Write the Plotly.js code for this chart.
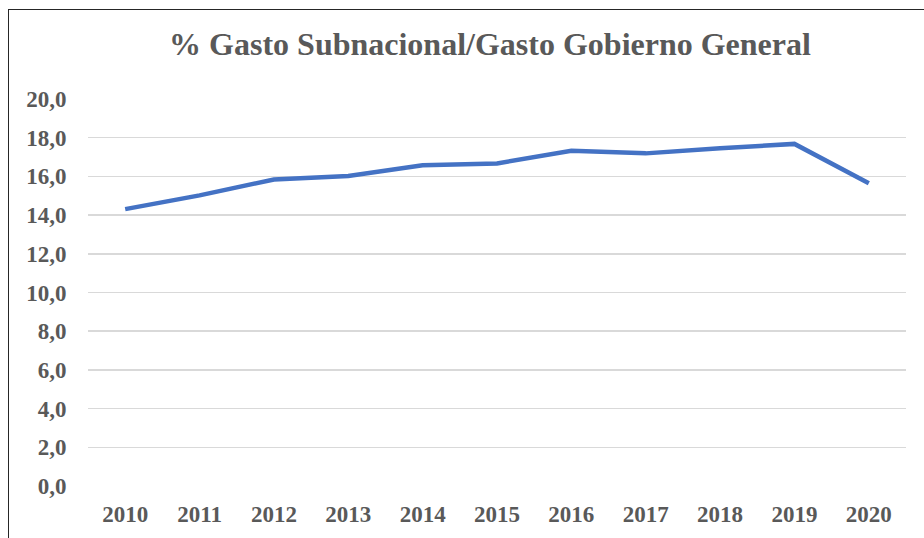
<!DOCTYPE html>
<html>
<head>
<meta charset="utf-8">
<script src="https://cdn.plot.ly/plotly-3.0.1.min.js"></script>
<style>
  html, body { margin: 0; padding: 0; background: #ffffff; overflow: hidden; }
  #chart { position: absolute; left: 0; top: 0; width: 924px; height: 538px; }
  #frame { position: absolute; left: 8px; top: 9px; width: 1000px; height: 1000px;
           border-left: 1.5px solid #262626; border-top: 1.5px solid #262626; pointer-events: none; }
</style>
</head>
<body>
<div id="chart"></div>
<div id="frame"></div>
<script>
const years = ["2010","2011","2012","2013","2014","2015","2016","2017","2018","2019","2020"];
const gastoSubnacional = [14.31, 15.02, 15.84, 16.02, 16.57, 16.67, 17.33, 17.19, 17.45, 17.68, 15.65];
const yTickVals = [0, 2, 4, 6, 8, 10, 12, 14, 16, 18, 20];
const yTickText = ["0,0","2,0","4,0","6,0","8,0","10,0","12,0","14,0","16,0","18,0","20,0"];
const chartTitle = "% Gasto Subnacional/Gasto Gobierno General";

const fontFam = 'Liberation Serif, Times New Roman, serif';
const txtColor = '#595959';

const trace = {
  type: 'scatter',
  mode: 'lines',
  x: years,
  y: gastoSubnacional,
  line: { color: '#4472c4', width: 4.5, shape: 'linear' },
  hoverinfo: 'x+y'
};

const layout = {
  width: 924,
  height: 538,
  margin: { l: 88, r: 18, t: 99, b: 52 },
  paper_bgcolor: '#ffffff',
  plot_bgcolor: '#ffffff',
  showlegend: false,
  font: { family: fontFam, color: txtColor },
  title: {
    text: chartTitle,
    font: { family: fontFam, size: 32, color: txtColor, weight: 'bold' },
    x: 490/924, xanchor: 'center', xref: 'container',
    y: 1 - 44/538, yanchor: 'middle', yref: 'container'
  },
  xaxis: {
    type: 'category',
    range: [-0.5, years.length - 0.5],
    showgrid: false,
    zeroline: false,
    showline: false,
    ticks: 'outside',
    ticklen: 7,
    tickcolor: 'rgba(0,0,0,0)',
    tickfont: { family: fontFam, size: 23, color: txtColor, weight: 'bold' },
    fixedrange: true
  },
  yaxis: {
    range: [0, 20],
    tickvals: yTickVals,
    ticktext: yTickText,
    showgrid: true,
    gridcolor: '#d9d9d9',
    gridwidth: 1.5,
    zeroline: false,
    showline: false,
    ticks: 'outside',
    ticklen: 16,
    tickcolor: 'rgba(0,0,0,0)',
    tickfont: { family: fontFam, size: 23, color: txtColor, weight: 'bold' },
    fixedrange: true
  }
};

Plotly.newPlot('chart', [trace], layout, { displayModeBar: false, staticPlot: true });
</script>
</body>
</html>
